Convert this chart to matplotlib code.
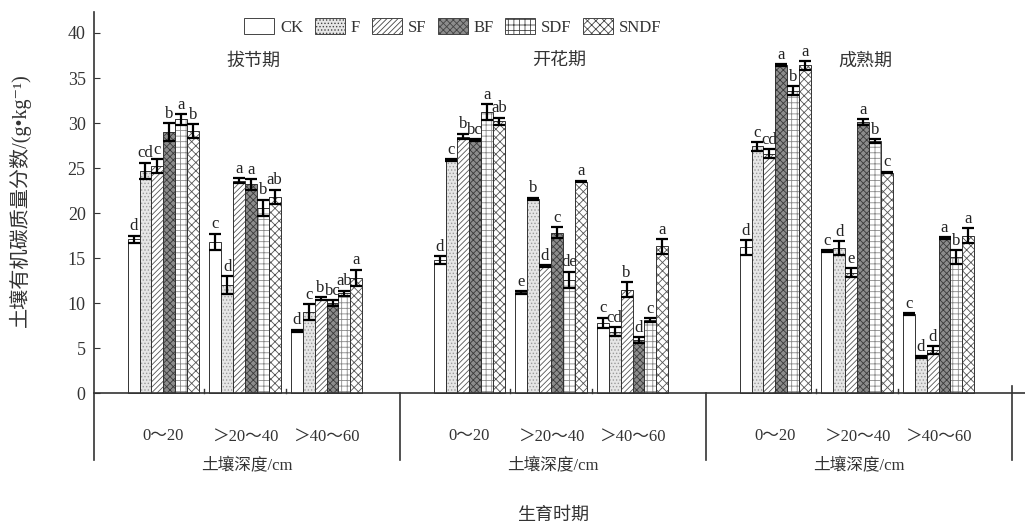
import matplotlib.pyplot as plt
import numpy as np

plt.rcParams['font.family'] = ['Liberation Serif', 'Noto Sans CJK SC', 'DejaVu Sans']
plt.rcParams['hatch.linewidth'] = 0.6

# data
stages = ['拔节期', '开花期', '成熟期']
depths = ['0～20', '＞20～40', '＞40～60']
treatments = ['CK', 'F', 'SF', 'BF', 'SDF', 'SNDF']

# mean SOC, rows = depth, cols = treatment
jointing = [[17.1, 24.7, 25.2, 29.0, 30.4, 29.1],
            [16.8, 12.0, 23.6, 23.2, 20.6, 21.8],
            [6.9, 9.0, 10.5, 10.0, 11.1, 12.8]]
flowering = [[14.8, 25.9, 28.5, 28.1, 31.2, 30.2],
             [11.2, 21.6, 14.1, 17.8, 12.6, 23.5],
             [7.8, 6.8, 11.5, 5.9, 8.1, 16.3]]
maturity = [[16.2, 27.4, 26.6, 36.4, 33.6, 36.4],
            [15.8, 16.1, 13.4, 30.1, 28.0, 24.5],
            [8.8, 4.0, 4.8, 17.2, 15.1, 17.5]]

jointing_err = [[0.4, 0.9, 0.8, 1.0, 0.6, 0.8],
                [0.9, 1.0, 0.3, 0.6, 0.9, 0.8],
                [0.15, 0.9, 0.15, 0.3, 0.3, 0.9]]
flowering_err = [[0.4, 0.1, 0.3, 0.1, 0.9, 0.4],
                 [0.15, 0.1, 0.1, 0.6, 0.9, 0.1],
                 [0.6, 0.5, 0.8, 0.3, 0.2, 0.8]]
maturity_err = [[0.8, 0.5, 0.5, 0.1, 0.5, 0.5],
                [0.1, 0.8, 0.5, 0.3, 0.2, 0.1],
                [0.1, 0.1, 0.4, 0.1, 0.8, 0.8]]

jointing_sig = [['d', 'cd', 'c', 'b', 'a', 'b'],
                ['c', 'd', 'a', 'a', 'b', 'ab'],
                ['d', 'c', 'b', 'bc', 'ab', 'a']]
flowering_sig = [['d', 'c', 'b', 'bc', 'a', 'ab'],
                 ['e', 'b', 'd', 'c', 'de', 'a'],
                 ['c', 'cd', 'b', 'd', 'c', 'a']]
maturity_sig = [['d', 'c', 'cd', 'a', 'b', 'a'],
                ['c', 'd', 'e', 'a', 'b', 'c'],
                ['c', 'd', 'd', 'a', 'b', 'a']]

means = [jointing, flowering, maturity]
errs = [jointing_err, flowering_err, maturity_err]
sigs = [jointing_sig, flowering_sig, maturity_sig]

# bar styles for each treatment: facecolor, hatch colour, hatch
styles = [('white', 'white', ''),
          ('#e6e6e6', '#9a9a9a', '.....'),
          ('white', '#555555', '//////'),
          ('#8c8c8c', '#3a3a3a', 'xxxxx'),
          ('white', '#8a8a8a', '+++'),
          ('white', '#555555', 'xxxx')]

panel_w = 3.75
first = 0.85
bw = 0.146

fig = plt.figure(figsize=(10.25, 5.25), dpi=100)
ax = fig.add_axes([94 / 1025, 1 - 460 / 525, (1012 - 94) / 1025, (460 - 12) / 525])

for p in range(3):
    base = p * panel_w + first
    for d in range(3):
        c = base + d
        for t in range(6):
            x = c + (t - 2.5) * bw
            v = means[p][d][t]
            e = errs[p][d][t]
            fc, hc, h = styles[t]
            ax.bar(x, v, width=bw, color=fc, edgecolor=hc, hatch=h, linewidth=0, zorder=2)
            ax.bar(x, v, width=bw, color='none', edgecolor='#333333', linewidth=0.7, zorder=3)
            ax.errorbar(x, v, yerr=e, fmt='none', ecolor='black', elinewidth=1.6,
                        capsize=4, capthick=1.6, zorder=4)
            ax.text(x, v + e + 0.15, sigs[p][d][t], ha='center', va='bottom',
                    fontsize=12, color='#222222', zorder=5)
        ax.text(c, -4.8, depths[d], ha='center', va='center', fontsize=12, color='#333333')
        if d < 2:
            ax.plot([c + 0.5, c + 0.5], [0, 0.45], color='#333333', lw=1)
    ax.text(p * panel_w + 1.95, 36.9, stages[p], ha='center', va='center',
            fontsize=13, color='#333333')
    ax.text(p * panel_w + panel_w / 2, -8.1, '土壤深度/cm', ha='center', va='center',
            fontsize=12, color='#333333', clip_on=False)
    # panel divider below the axis
    ax.plot([(p + 1) * panel_w] * 2, [-7.4, 0.8 if p == 2 else 0], color='#333333',
            lw=1.2, clip_on=False)

ax.axhline(0, color='#333333', lw=1.2, zorder=6, xmax=1.015, clip_on=False)

ax.set_xlim(0, 3 * panel_w)
ax.set_ylim(-7.42, 42.33)
ax.set_yticks(np.arange(0, 41, 5))
ax.tick_params(axis='y', direction='in', length=4, labelsize=13, colors='#333333', pad=6)
ax.set_xticks([])
for s in ['top', 'right', 'bottom']:
    ax.spines[s].set_visible(False)
ax.spines['left'].set_color('#333333')
ax.spines['left'].set_linewidth(1.2)

ax.set_ylabel('土壤有机碳质量分数/(g•kg⁻¹)', fontsize=14.5, color='#333333')
ax.yaxis.set_label_coords(-0.069, 0.58)
fig.text((94 + 1012) / 2 / 1025, 1 - 515 / 525, '生育时期', ha='center', va='center',
         fontsize=13, color='#333333')

# legend
handles = [plt.Rectangle((0, 0), 1, 1, facecolor=s[0], edgecolor='#444444', hatch=s[2],
                         linewidth=0.7) for s in styles]
leg = ax.legend(handles, treatments, ncol=6, loc='upper center',
                bbox_to_anchor=(0.391, 1.02), frameon=False, fontsize=12,
                handlelength=1.8, handleheight=1.1, columnspacing=0.7, handletextpad=0.35)
for txt in leg.get_texts():
    txt.set_color('#333333')

fig.savefig('out.png', dpi=100)
